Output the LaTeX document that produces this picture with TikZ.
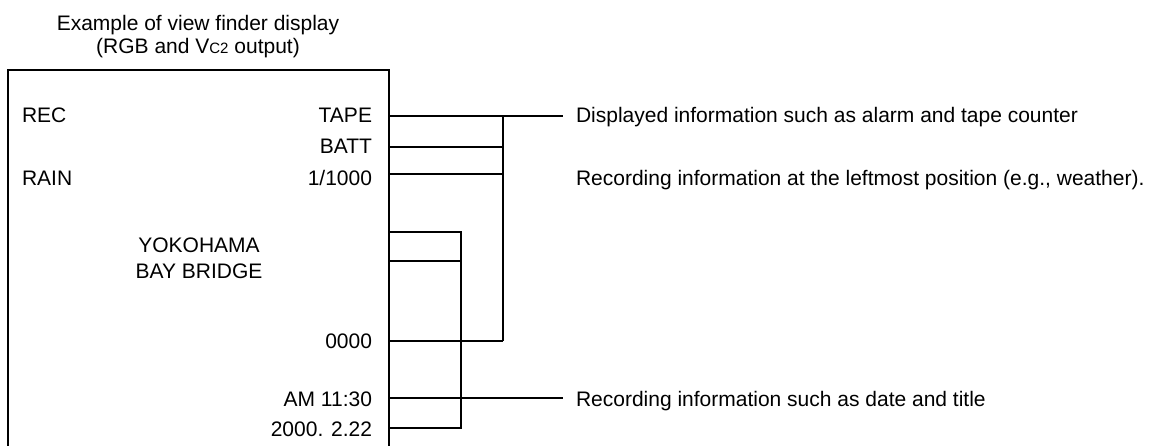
\documentclass[tikz,border=0pt]{standalone}
\usepackage{fontspec}
\setmainfont{Liberation Sans}
\begin{document}
\begin{tikzpicture}[x=1pt,y=-1pt,
  txt/.style={inner sep=0pt,outer sep=0pt,font=\fontsize{21}{25}\selectfont},
  lt/.style={txt,anchor=base west},
  rt/.style={txt,anchor=base east},
  ct/.style={txt,anchor=base},
  frame/.style={line width=2.6pt,line join=miter},
  conn/.style={line width=1.2pt}]
\useasboundingbox (0,0) rectangle (1154,445);
% title
\node[ct] (t1) at (198,30) {Example of view finder display};
\node[ct] (t2) at (198,53) {(RGB and V{\fontsize{15}{15}\selectfont C2} output)};
% frame (open at bottom)
\coordinate (bl) at (8,447);
\coordinate (tl) at (8,70);
\coordinate (tr) at (389,70);
\coordinate (br) at (389,447);
\draw[frame] (bl) -- (tl) -- (tr) -- (br);
% texts inside
\node[lt] (rec) at (22,122) {REC};
\node[lt] (rain) at (22,185) {RAIN};
\node[rt] (tape) at (372,122) {TAPE};
\node[rt] (batt) at (372,153) {BATT};
\node[rt] (shut) at (372,185) {1/1000};
\node[ct] (yoko) at (199,252) {YOKOHAMA};
\node[ct] (bay) at (199,278) {BAY BRIDGE};
\node[rt] (cnt) at (372,348) {0000};
\node[rt] (time) at (372,406) {AM 11:30};
\node[rt] (date) at (372,436) {2000. 2.22};
% right texts
\node[lt] (d1) at (576,122) {Displayed information such as alarm and tape counter};
\node[lt] (d2) at (576,185) {Recording information at the leftmost position (e.g., weather).};
\node[lt] (d3) at (576,406) {Recording information such as date and title};
% connector coordinates
\coordinate (aTape) at (389,116);
\coordinate (aBatt) at (389,147);
\coordinate (aShut) at (389,174);
\coordinate (aYoko) at (389,232);
\coordinate (aBay) at (389,261);
\coordinate (aCnt) at (389,341);
\coordinate (aTime) at (389,398);
\coordinate (aDate) at (389,428);
\coordinate (e1) at (563,116);
\coordinate (e3) at (563,398);
\coordinate (vTop) at (503,116);
\coordinate (vBot) at (503,341);
\coordinate (uTop) at (461,232);
\coordinate (uBot) at (461,428);
% connectors
\draw[conn] (aTape) -- (e1);
\draw[conn] (vTop) -- (vBot);
\draw[conn] (aBatt) -- (aBatt -| vTop);
\draw[conn] (aShut) -- (aShut -| vTop);
\draw[conn] (aCnt) -- (vBot);
\draw[conn] (aYoko) -- (uTop) -- (uBot) -- (aDate);
\draw[conn] (aBay) -- (aBay -| uTop);
\draw[conn] (aTime) -- (e3);
\end{tikzpicture}
\end{document}
